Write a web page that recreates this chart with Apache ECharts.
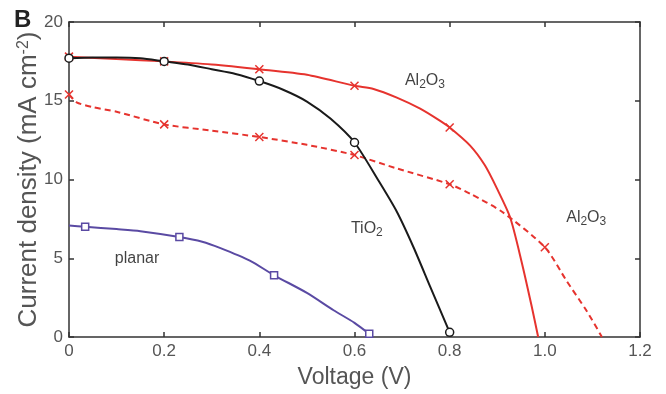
<!DOCTYPE html>
<html>
<head>
<meta charset="utf-8">
<script src="https://cdn.jsdelivr.net/npm/echarts@6/dist/echarts.min.js"></script>
<style>
  html, body { margin: 0; padding: 0; background: #fff; }
  #chart { width: 666px; height: 394px; }
</style>
</head>
<body>
<div id="chart"></div>
<script>
// J-V curves (voltage in V, current density in mA cm-2)
const tioV = [0, 0.05, 0.1, 0.15, 0.2, 0.25, 0.3, 0.35, 0.4, 0.45, 0.5, 0.55, 0.6, 0.651, 0.689, 0.724, 0.759, 0.8]
const tioJ = [17.7, 17.75, 17.75, 17.7, 17.5, 17.3, 17.0, 16.7, 16.25, 15.7, 14.95, 13.85, 12.35, 9.9, 7.95, 5.7, 3.2, 0.3]
const tioMarkV = [0, 0.2, 0.4, 0.6, 0.8]
const tioMarkJ = [17.7, 17.5, 16.25, 12.35, 0.3]

const alV = [0, 0.1, 0.2, 0.3, 0.4, 0.5, 0.6, 0.64, 0.689, 0.738, 0.776, 0.8, 0.843, 0.874, 0.899, 0.927, 0.951, 0.972, 0.986]
const alJ = [17.8, 17.65, 17.5, 17.3, 17.0, 16.65, 15.95, 15.75, 15.2, 14.5, 13.8, 13.3, 12.15, 10.9, 9.45, 7.6, 4.8, 2.0, 0]
const alMarkV = [0, 0.2, 0.4, 0.6, 0.8]
const alMarkJ = [17.8, 17.5, 17.0, 15.95, 13.3]

const alDashV = [0, 0.016, 0.05, 0.1, 0.2, 0.3, 0.4, 0.5, 0.6, 0.689, 0.8, 0.843, 0.91, 1.0, 1.046, 1.088, 1.12]
const alDashJ = [15.4, 14.9, 14.6, 14.3, 13.5, 13.1, 12.7, 12.2, 11.55, 10.7, 9.7, 9.1, 7.95, 5.7, 3.55, 1.65, 0]
const alDashMarkV = [0, 0.2, 0.4, 0.6, 0.8, 1.0]
const alDashMarkJ = [15.4, 13.5, 12.7, 11.55, 9.7, 5.7]

const planarV = [0, 0.034, 0.1, 0.15, 0.232, 0.28, 0.317, 0.38, 0.431, 0.5, 0.556, 0.6, 0.631]
const planarJ = [7.08, 7.0, 6.85, 6.72, 6.35, 6.05, 5.66, 4.85, 3.92, 2.8, 1.7, 0.9, 0.2]
const planarMarkV = [0.034, 0.232, 0.431, 0.631]
const planarMarkJ = [7.0, 6.35, 3.92, 0.2]

const xTickLabels = ['0', '0.2', '0.4', '0.6', '0.8', '1.0', '1.2']
const yTickLabels = ['0', '5', '10', '15', '20']

const RED = '#e6332e'
const BLACK = '#1a1a1a'
const PURPLE = '#5a4aa3'
const AXIS = '#333'
const FONT = 'Liberation Sans, Arial, sans-serif'

const zip = (xs, ys) => xs.map((x, i) => [x, ys[i]])
const crossPath = 'path://M0,0L10,10M10,0L0,10'

const curve = (name, xs, ys, color, dashed) => ({
  name,
  type: 'line',
  data: zip(xs, ys),
  smooth: 0.25,
  showSymbol: false,
  lineStyle: { color, width: 2, type: dashed ? [6, 4] : 'solid' },
  z: 2,
})

const marks = (xs, ys, symbol, size, color, fill) => ({
  type: 'scatter',
  data: zip(xs, ys),
  symbol,
  symbolSize: size,
  itemStyle: { color: fill, borderColor: color, borderWidth: 1.5, opacity: 1 },
  z: 3,
})

const sub = (a, b, c, d) => `{n|${a}}{s|${b}}{n|${c}}{s|${d}}`
const notes = [
  { value: [0.748, 16.3], text: sub('Al', '2', 'O', '3') },
  { value: [0.626, 6.86], text: `{n|TiO}{s|2}` },
  { value: [1.087, 7.55], text: sub('Al', '2', 'O', '3') },
  { value: [0.143, 4.97], text: `{n|planar}` },
]

const axisLine = { show: true, onZero: false, lineStyle: { color: AXIS, width: 1.5 } }
const axisTick = { show: true, inside: true, length: 5, lineStyle: { color: AXIS, width: 1.5 } }

const chart = echarts.init(document.getElementById('chart'))

const option = {
  animation: false,
  backgroundColor: '#fff',
  textStyle: { fontFamily: FONT },
  grid: { left: 69, right: 26, top: 22, bottom: 54 },
  graphic: [
    {
      type: 'text',
      left: 14,
      top: 8,
      style: { text: 'B', font: 'bold 24px ' + FONT, fill: '#222' },
    },
  ],
  xAxis: [
    {
      type: 'value',
      min: 0,
      max: 1.2,
      interval: 0.2,
      name: 'Voltage (V)',
      nameLocation: 'middle',
      nameGap: 29,
      nameMoveOverlap: false,
      nameTextStyle: { fontSize: 23, color: '#555', fontFamily: FONT },
      axisLine,
      axisTick,
      axisLabel: {
        fontSize: 17,
        color: '#555',
        margin: 6,
        formatter: (v) => xTickLabels[Math.round(v / 0.2)],
      },
      splitLine: { show: false },
    },
    {
      type: 'value',
      position: 'top',
      min: 0,
      max: 1.2,
      interval: 0.2,
      axisLine,
      axisTick,
      axisLabel: { show: false },
      splitLine: { show: false },
    },
  ],
  yAxis: [
    {
      type: 'value',
      min: 0,
      max: 20,
      interval: 5,
      name: '{n|Current density (mA cm}{p|-2}{n|)}',
      nameLocation: 'middle',
      nameRotate: 90,
      nameGap: 27,
      nameMoveOverlap: false,
      nameTextStyle: {
        color: '#555',
        fontFamily: FONT,
        rich: {
          n: { fontSize: 26, color: '#555', fontFamily: FONT, lineHeight: 26 },
          p: { fontSize: 16, color: '#555', fontFamily: FONT, lineHeight: 16, verticalAlign: 'top' },
        },
      },
      axisLine,
      axisTick,
      axisLabel: {
        fontSize: 17,
        color: '#555',
        margin: 6,
        formatter: (v) => yTickLabels[Math.round(v / 5)],
      },
      splitLine: { show: false },
    },
    {
      type: 'value',
      position: 'right',
      min: 0,
      max: 20,
      interval: 5,
      axisLine,
      axisTick,
      axisLabel: { show: false },
      splitLine: { show: false },
    },
  ],
  series: [
    curve('Al2O3', alV, alJ, RED, false),
    curve('Al2O3 dashed', alDashV, alDashJ, RED, true),
    curve('TiO2', tioV, tioJ, BLACK, false),
    curve('planar', planarV, planarJ, PURPLE, false),
    marks(alMarkV, alMarkJ, crossPath, 8, RED, 'rgba(0,0,0,0)'),
    marks(alDashMarkV, alDashMarkJ, crossPath, 8, RED, 'rgba(0,0,0,0)'),
    marks(tioMarkV, tioMarkJ, 'circle', 8, BLACK, '#fff'),
    marks(planarMarkV, planarMarkJ, 'rect', 7, PURPLE, '#fff'),
    {
      type: 'scatter',
      symbolSize: 0,
      silent: true,
      z: 4,
      data: notes.map((n) => ({
        value: n.value,
        label: {
          show: true,
          position: 'inside',
          formatter: n.text,
          rich: {
            n: { fontSize: 16, color: '#111', fontFamily: FONT, lineHeight: 20, verticalAlign: 'middle' },
            s: { fontSize: 12, color: '#111', fontFamily: FONT, lineHeight: 12, verticalAlign: 'bottom' },
          },
        },
      })),
    },
  ],
}

chart.setOption(option)
</script>
</body>
</html>
